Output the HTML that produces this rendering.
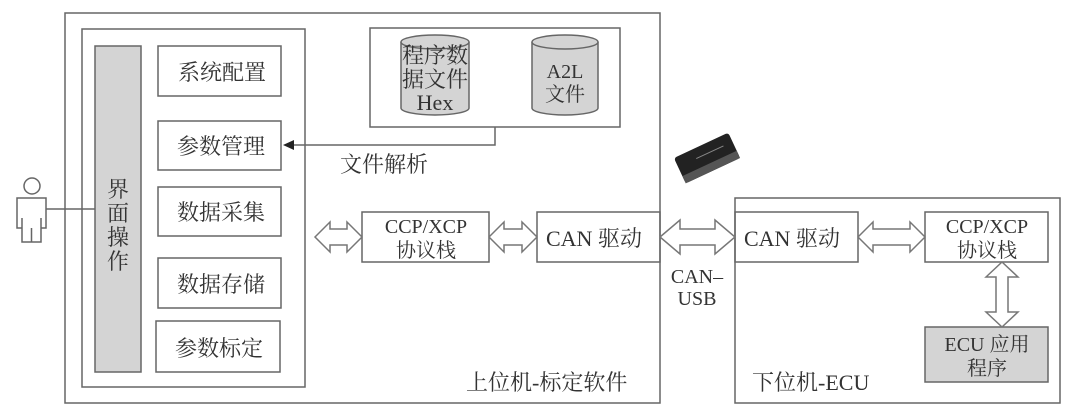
<!DOCTYPE html>
<html><head><meta charset="utf-8"><style>
html,body{margin:0;padding:0;background:#fff;}
svg text{font-family:"Liberation Serif","Noto Serif CJK SC",serif;fill:#333;}
</style></head><body>
<svg width="1080" height="407" viewBox="0 0 1080 407" xmlns="http://www.w3.org/2000/svg">
<g fill="none" stroke="#666" stroke-width="1.5">
<rect x="65" y="13" width="595" height="390"/>
<rect x="82" y="29" width="223" height="358"/>
<rect x="370" y="28" width="250" height="99"/>
<rect x="158" y="46" width="123" height="50"/>
<rect x="158" y="121" width="123" height="49"/>
<rect x="158" y="187" width="123" height="49"/>
<rect x="158" y="258" width="123" height="50"/>
<rect x="156" y="321" width="124" height="51"/>
<rect x="362" y="212" width="127" height="50"/>
<rect x="537" y="212" width="123" height="50"/>
<rect x="735" y="198" width="325" height="205"/>
<rect x="735" y="212" width="123" height="50"/>
<rect x="925" y="212" width="123" height="50"/>
<polyline points="495,127 495,145 290,145"/>
<line x1="46" y1="209" x2="95" y2="209"/>
<circle cx="32" cy="186" r="8"/>
<path d="M17,198 h29 v30 h-5 v14 h-19 v-14 h-5 z M22,218 v24 M41,218 v24 M31.5,228 v14"/>
</g>
<rect x="95" y="46" width="46" height="326" fill="#d4d4d4" stroke="#666" stroke-width="1.5"/>
<rect x="925" y="327" width="123" height="55" fill="#d4d4d4" stroke="#666" stroke-width="1.5"/>
<polygon points="283,145 294,140 294,150" fill="#222"/>
<g fill="#d4d4d4" stroke="#666" stroke-width="1.5">
<path d="M401,42 v66 a34,7 0 0 0 68,0 v-66"/>
<ellipse cx="435" cy="42" rx="34" ry="7"/>
<path d="M532,42 v66 a33,7 0 0 0 66,0 v-66"/>
<ellipse cx="565" cy="42" rx="33" ry="7"/>
</g>
<g fill="#fff" stroke="#777" stroke-width="1.5">
<polygon points="315,237 330,222 330,229 347,229 347,222 362,237 347,252 347,245 330,245 330,252"/>
<polygon points="489,237 504,222 504,229 522,229 522,222 537,237 522,252 522,245 504,245 504,252"/>
<polygon points="660,237 680,220 680,229 715,229 715,220 735,237 715,254 715,245 680,245 680,254"/>
<polygon points="858,237 873,222 873,229 910,229 910,222 925,237 910,252 910,245 873,245 873,252"/>
<polygon points="986,277 1002,262 1018,277 1008,277 1008,312 1018,312 1002,327 986,312 996,312 996,277"/>
</g>
<g transform="translate(707,158) rotate(-25)">
<rect x="-30" y="-14" width="60" height="28" rx="3" fill="#222"/>
<rect x="-30" y="6" width="60" height="8" fill="#555"/>
<line x1="-10" y1="-4" x2="20" y2="-4" stroke="#888" stroke-width="1"/>
</g>
<g font-size="22">
<text x="178" y="80">系统配置</text>
<text x="177" y="154">参数管理</text>
<text x="177" y="220">数据采集</text>
<text x="177" y="292">数据存储</text>
<text x="175" y="356">参数标定</text>
<text x="107" y="197">界</text>
<text x="107" y="221">面</text>
<text x="107" y="245">操</text>
<text x="107" y="269">作</text>
<text x="340" y="172">文件解析</text>
<text x="466" y="390">上位机-标定软件</text>
<text x="752" y="390">下位机-ECU</text>
<text x="546" y="246">CAN 驱动</text>
<text x="744" y="246">CAN 驱动</text>
</g>
<g font-size="20" text-anchor="middle">
<text x="426" y="233">CCP/XCP</text>
<text x="426" y="257">协议栈</text>
<text x="987" y="233">CCP/XCP</text>
<text x="987" y="257">协议栈</text>
<text x="987" y="351">ECU 应用</text>
<text x="987" y="375">程序</text>
<text x="697" y="283">CAN–</text>
<text x="697" y="305">USB</text>
<text x="565" y="78">A2L</text>
<text x="565" y="101">文件</text>
</g>
<g font-size="22" text-anchor="middle">
<text x="435" y="63">程序数</text>
<text x="435" y="87">据文件</text>
<text x="435" y="110">Hex</text>
</g>
</svg>
</body></html>
